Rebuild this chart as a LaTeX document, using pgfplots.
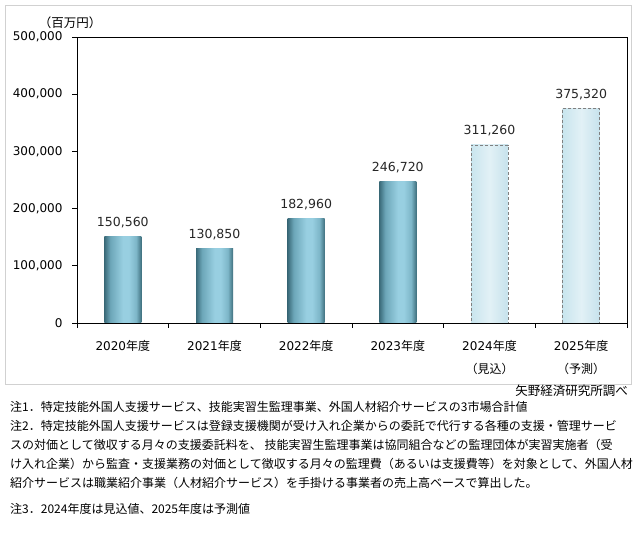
\documentclass[border=0pt]{standalone}
\usepackage{pgfplots}
\pgfplotsset{compat=1.18}
\usepackage{fontspec}
\setmainfont{DejaVu Sans}
\newfontfamily\jp{Noto Sans CJK JP}
\newcommand\J[1]{{\jp #1}}
\definecolor{bA}{HTML}{3A6A79}
\definecolor{bB}{HTML}{6CA6B8}
\definecolor{bC}{HTML}{98CFE1}
\definecolor{bD}{HTML}{7DB6C8}
\definecolor{bE}{HTML}{40717F}
\pgfdeclarehorizontalshading{barsh}{100bp}{color(0bp)=(bA); color(25bp)=(bA); color(33bp)=(bB); color(50bp)=(bC); color(58bp)=(bC); color(68bp)=(bD); color(75bp)=(bE); color(100bp)=(bE)}
\definecolor{fA}{HTML}{C9E5EE}
\definecolor{fB}{HTML}{E2F1F6}
\definecolor{fC}{HTML}{C6E2EC}
\pgfdeclarehorizontalshading{fcsh}{100bp}{color(0bp)=(fA); color(25bp)=(fA); color(50bp)=(fB); color(75bp)=(fC); color(100bp)=(fC)}
\pgfplotsset{
  actual/.style={ybar, bar width=37bp, bar shift=0pt, draw=none, shade, shading=barsh, shading angle=0},
  forecast/.style={ybar, bar width=37bp, bar shift=0pt, draw=black!50, line width=0.8bp, dash pattern=on 3bp off 2bp, shade, shading=fcsh, shading angle=0},
}
\begin{document}
\begin{tikzpicture}[x=1bp,y=1bp]
\useasboundingbox (0,0) rectangle (638,549);
\draw[black!18] (5,165) rectangle (631,544);
\node[font=\jp\fontsize{12.5bp}{15bp}\selectfont] at (70,526) {（百万円）};
\begin{axis}[at={(77bp,226bp)}, anchor=south west, scale only axis,
  width=550bp, height=286bp,
  xmin=-0.5, xmax=5.5, ymin=0, ymax=500000,
  axis line style={black, line width=0.8bp},
  ytick={0,100000,200000,300000,400000,500000},
  scaled y ticks=false,
  ytick pos=left, xtick pos=bottom,
  tick align=outside, major tick length=5bp,
  tick style={black, line width=0.8bp},
  yticklabel style={font=\fontsize{12bp}{14bp}\selectfont, xshift=-6bp},
  xtick={-0.5,0.5,1.5,2.5,3.5,4.5,5.5},
  x tick label as interval,
  xticklabels={{2020\J{年度}},{2021\J{年度}},{2022\J{年度}},{2023\J{年度}},{2024\J{年度}\\\J{（見込）}},{2025\J{年度}\\\J{（予測）}}},
  xticklabel style={font=\fontsize{12bp}{23bp}\selectfont, align=center, yshift=-9bp},
  nodes near coords,
  nodes near coords style={font=\fontsize{12.5bp}{15bp}\selectfont, color=black!85, yshift=5bp},
  /pgf/number format/fixed,
  /pgf/number format/precision=0,
  /pgf/number format/1000 sep={,},
  /pgf/number format/assume math mode=true,
]
\addplot[actual] coordinates {(0,150560)};
\addplot[actual] coordinates {(1,130850)};
\addplot[actual] coordinates {(2,182960)};
\addplot[actual] coordinates {(3,246720)};
\addplot[forecast] coordinates {(4,311260)};
\addplot[forecast] coordinates {(5,375320)};
\end{axis}
\node[anchor=base east, inner sep=0, font=\jp\fontsize{12.5bp}{15bp}\selectfont] at (628,153) {矢野経済研究所調べ};
\begin{scope}[every node/.style={anchor=base west, inner sep=0, font=\jp\fontsize{12bp}{19bp}\selectfont}]
\node at (10,137) {注1．特定技能外国人支援サービス、技能実習生監理事業、外国人材紹介サービスの3市場合計値};
\node at (10,118) {注2．特定技能外国人支援サービスは登録支援機関が受け入れ企業からの委託で代行する各種の支援・管理サービ};
\node at (10,99) {スの対価として徴収する月々の支援委託料を、 技能実習生監理事業は協同組合などの監理団体が実習実施者（受};
\node at (10,80) {け入れ企業）から監査・支援業務の対価として徴収する月々の監理費（あるいは支援費等）を対象として、外国人材};
\node at (10,61) {紹介サービスは職業紹介事業（人材紹介サービス）を手掛ける事業者の売上高ベースで算出した。};
\node at (10,35) {注3．2024年度は見込値、2025年度は予測値};
\end{scope}
\end{tikzpicture}
\end{document}
